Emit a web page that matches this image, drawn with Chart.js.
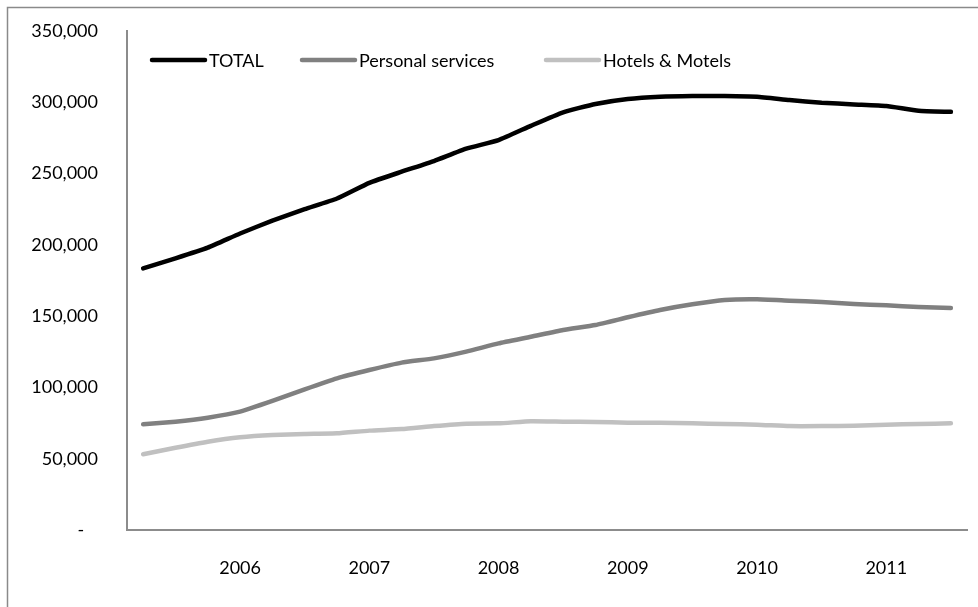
<!DOCTYPE html>
<html>
<head>
<meta charset="utf-8">
<script src="https://cdn.jsdelivr.net/npm/chart.js@4.4.1/dist/chart.umd.min.js"></script>
<style>
  html, body { margin: 0; padding: 0; background: #fff; }
  #wrap { position: relative; width: 978px; height: 607px; }
</style>
</head>
<body>
<div id="wrap"><canvas id="myChart" width="978" height="607"></canvas></div>
<script>
// quarterly points, a year label every fourth quarter
const tickLabels = ['', '', '', '2006', '', '', '', '2007', '', '', '', '2008', '', '',
    '', '2009', '', '', '', '2010', '', '', '', '2011', '', ''];

const total = [183500, 190500, 198000, 208000, 217000, 225000, 232500, 243500, 251300,
    258800, 267500, 273500, 283500, 293000, 298800, 302300, 303900, 304400, 304400,
    303900, 301600, 299700, 298500, 297400, 294100, 293300];

const personalServices = [74100, 76000, 78800, 83000, 90500, 98700, 106400, 112200,
    117400, 120400, 125100, 130900, 135500, 140300, 143800, 149200, 154300, 158300,
    161300, 161800, 160800, 159900, 158500, 157600, 156400, 155700];

const hotelsMotels = [53100, 57700, 61900, 65000, 66600, 67300, 67800, 69700, 70800,
    72900, 74600, 74800, 76300, 76000, 75800, 75300, 75300, 74800, 74300, 73900,
    72900, 72900, 73200, 73900, 74300, 74800];

const yTicks = [0, 50000, 100000, 150000, 200000, 250000, 300000, 350000];

const font = { family: 'Lato', size: 18 };

// outer frame of the chart object
const framePlugin = {
    id: 'frame',
    beforeDraw(chart) {
        const c = chart.ctx;
        c.save();
        c.fillStyle = '#fff';
        c.fillRect(0, 0, chart.width, chart.height);
        c.strokeStyle = '#8a8a8a';
        c.lineWidth = 1.5;
        c.strokeRect(7.5, 7.5, 1000, 700);
        c.restore();
    }
};

// one-row legend sitting inside the plot, like the excel one
const legendOffsets = [23, 173, 417];
const insideLegend = {
    id: 'insideLegend',
    afterDraw(chart) {
        const c = chart.ctx;
        const y = chart.chartArea.top + 29;
        c.save();
        c.font = font.size + 'px ' + font.family;
        c.textBaseline = 'middle';
        c.lineCap = 'round';
        chart.data.datasets.forEach((ds, i) => {
            const x = chart.chartArea.left + legendOffsets[i];
            c.strokeStyle = ds.borderColor;
            c.lineWidth = 4.5;
            c.beginPath();
            c.moveTo(x + 2, y);
            c.lineTo(x + 55, y);
            c.stroke();
            c.fillStyle = '#000';
            c.fillText(ds.label, x + 59, y + 1);
        });
        c.restore();
    }
};

function lineSet(label, data, color) {
    return {
        label: label,
        data: data,
        borderColor: color,
        backgroundColor: color,
        borderWidth: 4.5,
        borderCapStyle: 'round',
        borderJoinStyle: 'round',
        pointRadius: 0,
        tension: 0.15
    };
}

const ctx = document.getElementById('myChart').getContext('2d');
const myChart = new Chart(ctx, {
    type: 'line',
    data: {
        labels: tickLabels,
        datasets: [
            lineSet('TOTAL', total, '#000000'),
            lineSet('Personal services', personalServices, '#808080'),
            lineSet('Hotels & Motels', hotelsMotels, '#c0c0c0')
        ]
    },
    options: {
        responsive: false,
        animation: false,
        layout: { padding: { left: 8, top: 31, right: 6, bottom: 8 } },
        plugins: {
            tooltip: { enabled: false },
            legend: { display: false }
        },
        scales: {
            x: {
                offset: true,
                grid: { display: false, drawTicks: false },
                border: { display: true, color: '#8c8c8c', width: 2 },
                ticks: {
                    autoSkip: false,
                    maxRotation: 0,
                    padding: 27,
                    color: '#000',
                    font: font
                },
                afterFit(axis) { axis.height = 69; }
            },
            y: {
                min: 0,
                max: 350000,
                afterBuildTicks(axis) { axis.ticks = yTicks.map(v => ({ value: v })); },
                grid: { display: false, drawTicks: false },
                border: { display: true, color: '#8c8c8c', width: 2 },
                ticks: {
                    padding: 29,
                    color: '#000',
                    font: font,
                    callback: v => v === 0 ? '-   ' : v.toLocaleString('en-US')
                },
                afterFit(axis) {
                    axis.width = 119;
                    axis.paddingTop = 0;
                    axis.paddingBottom = 0;
                }
            }
        }
    },
    plugins: [framePlugin, insideLegend]
});
</script>
</body>
</html>
